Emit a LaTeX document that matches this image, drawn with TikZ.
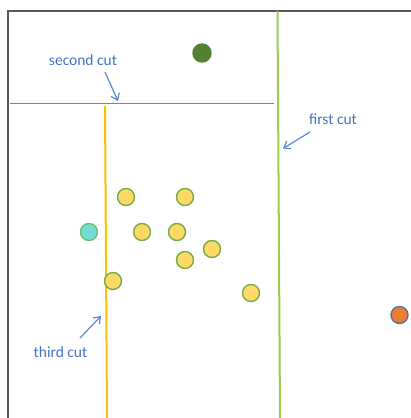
\documentclass[tikz,border=0pt]{standalone}
\usepackage{fontspec}
\setmainfont{Carlito}
\usetikzlibrary{arrows.meta}
\definecolor{frame}{HTML}{595959}
\definecolor{cutblue}{HTML}{4472C4}
\definecolor{lineblue}{HTML}{5B87D6}
\definecolor{cutgreen}{HTML}{92D050}
\definecolor{cutyellow}{HTML}{FFC000}
\definecolor{ptgreen}{HTML}{70AD47}
\definecolor{ptyellow}{HTML}{FFD966}
\definecolor{ptteal}{HTML}{72DDD4}
\definecolor{ptdark}{HTML}{548235}
\definecolor{ptorange}{HTML}{ED7D31}
\tikzset{
  pt/.style={circle,minimum size=17pt,inner sep=0pt,line width=1.4pt,draw=ptgreen,fill=ptyellow},
  lbl/.style={text=cutblue,font=\fontsize{15.5}{18}\selectfont,anchor=base,inner sep=0pt},
  callout/.style={lineblue,line width=1.2pt,-{Straight Barb[length=6pt,width=9pt]}}
}
\begin{document}
\begin{tikzpicture}[x=1pt,y=-1pt]
\useasboundingbox (0,0) rectangle (411,418);
% frame
\draw[frame,line width=2pt] (8,418) -- (8,11) -- (411,11);
% cuts
\coordinate (g1) at (277.5,11); \coordinate (g2) at (280,418);
\draw[cutgreen,line width=2pt] (g1) -- (g2);
\coordinate (b1) at (10,103.5); \coordinate (b2) at (274,103.5);
\draw[lineblue,line width=1.8pt] (b1) -- (b2);
\coordinate (y1) at (105,106); \coordinate (y2) at (107,418);
\draw[cutyellow,line width=2pt] (y1) -- (y2);
% points
\node[pt,fill=ptdark,draw=ptdark,minimum size=18pt] (p0) at (202,53) {};
\node[pt] (p1) at (126,197) {};
\node[pt] (p2) at (185,197) {};
\node[pt,fill=ptteal,draw=ptgreen!70!ptteal] (p3) at (89,232) {};
\node[pt] (p4) at (142,232) {};
\node[pt] (p5) at (177,232) {};
\node[pt] (p6) at (212,249) {};
\node[pt] (p7) at (185,260) {};
\node[pt] (p8) at (113,281) {};
\node[pt] (p9) at (251,293) {};
\node[pt,fill=ptorange,draw=cutblue!80!gray] (p10) at (399.5,315) {};
% labels
\node[lbl] (l2) at (83,65.7) {second cut};
\node[lbl] (l1) at (333,124) {first cut};
\node[lbl] (l3) at (60.5,357.7) {third cut};
% arrows
\coordinate (a2s) at (105,72); \coordinate (a2e) at (118,101);
\draw[callout] (a2s) -- (a2e);
\coordinate (a1s) at (310,132); \coordinate (a1e) at (283,148.5);
\draw[callout] (a1s) -- (a1e);
\coordinate (a3s) at (80,338); \coordinate (a3e) at (101,316);
\draw[callout] (a3s) -- (a3e);
\end{tikzpicture}
\end{document}
